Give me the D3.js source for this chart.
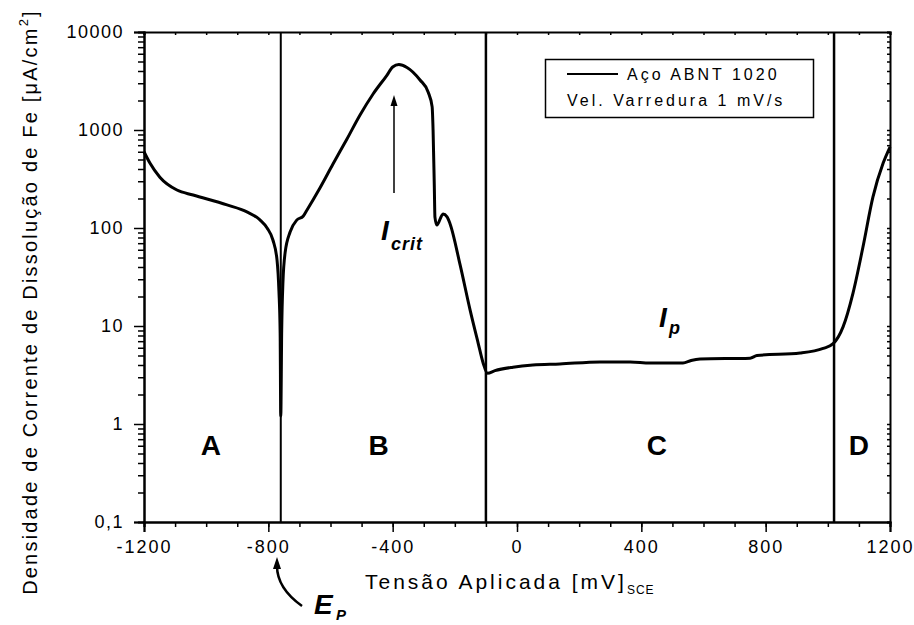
<!DOCTYPE html>
<html><head><meta charset="utf-8">
<script src="https://cdn.jsdelivr.net/npm/d3@7"></script>
<style>
body{margin:0;background:#fff;}
text{font-family:"Liberation Sans",Arial,sans-serif;fill:#000;}
</style></head>
<body><svg id="c" width="914" height="625"></svg>
<script>
// ---- data ----
const potential = [-1200,-1181,-1149,-1094,-1042,-933,-869,-827,-804,-785,-772,-766,-762,-760,-757,-753,-746,-730,-708,-688,-676,-634,-592,-547,-505,-463,-418,-400,-380,-354,-312,-286,-273,-270,-266,-264,-258,-238,-225,-216,-183,-151,-125,-109,-95,-71,-13,51,138,267,364,428,534,560,589,750,772,911,985,1017,1049,1081,1113,1145,1178,1200];
const current = [600,460,330,244,217,172,146,121,100,75,47,23,8.5,1.2,9,28,56,91,121,132,152,256,450,809,1423,2330,3640,4400,4650,4350,3240,2440,1720,1000,262,129,107,139,130,112,42,14.6,6.7,4.2,3.3,3.5,3.8,4.0,4.1,4.3,4.3,4.2,4.2,4.45,4.6,4.7,5.0,5.3,5.9,6.6,9.8,21.7,64,207,460,671];
const xTicks = [-1200,-800,-400,0,400,800,1200];
const yTicks = [0.1,1,10,100,1000,10000];
const yTickLabels = ["0,1","1","10","100","1000","10000"];
const regionBounds = [-760,-100,1020];
const regionNames = ["A","B","C","D"];
const regionLabelX = [-985,-445,450,1100];
const legendLines = ["Aço ABNT 1020","Vel. Varredura 1 mV/s"];

// ---- layout ----
const svg = d3.select("#c");
const L=144,R=890,T=32,B=522;
const x = d3.scaleLinear().domain([-1200,1200]).range([L,R]);
const y = d3.scaleLog().domain([0.1,10000]).range([B,T]);

const minorX = d3.range(-1200,1201,100);
const minorY = [];
for (let d=0.1; d<10000; d*=10) for (let k=2;k<=9;k++) minorY.push(+(d*k).toPrecision(3));

function styleAxis(g){ g.select(".domain").attr("stroke","#000").attr("stroke-width",2);
  g.selectAll(".tick line").attr("stroke","#000").attr("stroke-width",1.5); }

// bottom
svg.append("g").attr("transform",`translate(0,${B})`)
  .call(d3.axisBottom(x).tickValues(minorX).tickSize(5).tickFormat("")).call(styleAxis);
const bx = svg.append("g").attr("transform",`translate(0,${B})`)
  .call(d3.axisBottom(x).tickValues(xTicks).tickSize(10).tickPadding(8).tickFormat(d=>String(d))).call(styleAxis);
bx.selectAll("text").attr("font-size",18).attr("letter-spacing",2).attr("dy","0.71em");
// top
svg.append("g").attr("transform",`translate(0,${T})`)
  .call(d3.axisTop(x).tickValues(minorX).tickSize(-3).tickFormat("")).call(styleAxis);
// left
svg.append("g").attr("transform",`translate(${L},0)`)
  .call(d3.axisLeft(y).tickValues(minorY).tickSize(6).tickFormat("")).call(styleAxis);
const ly = svg.append("g").attr("transform",`translate(${L},0)`)
  .call(d3.axisLeft(y).tickValues(yTicks).tickSize(10).tickPadding(10).tickFormat((d,i)=>yTickLabels[i])).call(styleAxis);
ly.selectAll("text").attr("font-size",18).attr("letter-spacing",1.5);
// right
svg.append("g").attr("transform",`translate(${R},0)`)
  .call(d3.axisRight(y).tickValues(minorY.concat(yTicks)).tickSize(-3).tickFormat("")).call(styleAxis);

// region boundaries
svg.selectAll("line.reg").data(regionBounds).join("line")
  .attr("x1",d=>x(d)).attr("x2",d=>x(d)).attr("y1",T).attr("y2",B)
  .attr("stroke","#000").attr("stroke-width",(d,i)=>i===0?2:2.5);

// curve
const pts = potential.map((p,i)=>[p,current[i]]);
svg.append("path").datum(pts)
  .attr("fill","none").attr("stroke","#000").attr("stroke-width",3).attr("stroke-linejoin","round")
  .attr("d",d3.line().x(d=>x(d[0])).y(d=>y(d[1])).curve(d3.curveMonotoneX));

// region labels
svg.selectAll("text.rl").data(regionNames).join("text")
  .attr("x",(d,i)=>x(regionLabelX[i])).attr("y",455).attr("text-anchor","middle")
  .attr("font-size",28).attr("font-weight","bold").text(d=>d);

// legend
svg.append("rect").attr("x",545.5).attr("y",59.5).attr("width",268).attr("height",58)
  .attr("fill","#fff").attr("stroke","#000").attr("stroke-width",1.5);
svg.append("line").attr("x1",567).attr("x2",618).attr("y1",74).attr("y2",74).attr("stroke","#000").attr("stroke-width",2);
svg.append("text").attr("x",627).attr("y",80).attr("font-size",16).attr("letter-spacing",3).text(legendLines[0]);
svg.append("text").attr("x",567).attr("y",106).attr("font-size",16).attr("letter-spacing",3).text(legendLines[1]);

// I_crit arrow
svg.append("line").attr("x1",394).attr("x2",394).attr("y1",193).attr("y2",104).attr("stroke","#000").attr("stroke-width",1.5);
svg.append("path").attr("d","M394,95 L390.5,106 L397.5,106 Z").attr("fill","#000");
svg.append("text").attr("x",381).attr("y",240).attr("font-size",28).attr("font-weight","bold").attr("font-style","italic").text("I");
svg.append("text").attr("x",391).attr("y",250).attr("font-size",18).attr("font-weight","bold").attr("font-style","italic").attr("letter-spacing",1).text("crit");

// I_p
svg.append("text").attr("x",659).attr("y",327).attr("font-size",28).attr("font-weight","bold").attr("font-style","italic").text("I");
svg.append("text").attr("x",669).attr("y",334).attr("font-size",18).attr("font-weight","bold").attr("font-style","italic").text("p");

// E_p
svg.append("path").attr("d","M302,606 C288,596 277,584 277,566").attr("fill","none").attr("stroke","#000").attr("stroke-width",2.5);
svg.append("path").attr("d","M277,557 L273,569 L281,569 Z").attr("fill","#000");
svg.append("text").attr("x",314).attr("y",614).attr("font-size",28).attr("font-weight","bold").attr("font-style","italic").text("E");
svg.append("text").attr("x",336).attr("y",620).attr("font-size",15).attr("font-weight","bold").attr("font-style","italic").text("P");

// axis titles
const xt = svg.append("text").attr("x",365).attr("y",589).attr("font-size",21).attr("letter-spacing",3);
xt.append("tspan").text("Tensão Aplicada [mV]");
xt.append("tspan").attr("font-size",12).attr("dy",5).attr("letter-spacing",1).text("SCE");

const yt = svg.append("text").attr("transform","translate(37,302) rotate(-90)").attr("text-anchor","middle")
  .attr("font-size",20).attr("letter-spacing",2.2);
yt.append("tspan").text("Densidade de Corrente de Dissolução de Fe [μA/cm");
yt.append("tspan").attr("font-size",13).attr("dy",-9).text("2");
yt.append("tspan").attr("dy",9).text("]");
</script></body></html>
